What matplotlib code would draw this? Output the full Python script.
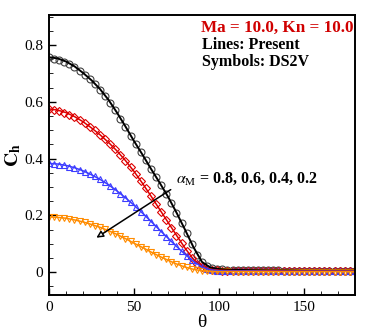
import matplotlib
matplotlib.use("Agg")
import matplotlib.pyplot as plt
from matplotlib.ticker import MultipleLocator

plt.rcParams['font.family'] = ['Liberation Serif', 'DejaVu Serif']
plt.rcParams['mathtext.fontset'] = 'stix'

# ---- Present (lines) ----
theta_line = [0, 5, 10, 15, 20, 25, 30, 35, 40, 45, 50, 55, 60, 65, 70, 75, 80, 85, 90, 95,
              100, 105, 110, 120, 130, 140, 150, 160, 170, 180]
ch_line_08 = [0.757, 0.753, 0.742, 0.725, 0.702, 0.676, 0.645, 0.607, 0.562, 0.513, 0.462, 0.414,
              0.364, 0.316, 0.266, 0.210, 0.150, 0.088, 0.036, 0.016, 0.011, 0.009, 0.008, 0.007,
              0.006, 0.006, 0.005, 0.005, 0.005, 0.005]
ch_line_06 = [0.575, 0.571, 0.562, 0.548, 0.530, 0.508, 0.484, 0.457, 0.427, 0.393, 0.355, 0.313,
              0.268, 0.222, 0.176, 0.130, 0.085, 0.045, 0.020, 0.010, 0.007, 0.006, 0.005, 0.005,
              0.005, 0.004, 0.004, 0.004, 0.004, 0.004]
ch_line_04 = [0.383, 0.381, 0.376, 0.368, 0.357, 0.343, 0.327, 0.308, 0.286, 0.262, 0.236, 0.208,
              0.179, 0.149, 0.120, 0.091, 0.063, 0.038, 0.018, 0.008, 0.005, 0.004, 0.004, 0.004,
              0.003, 0.003, 0.003, 0.003, 0.003, 0.003]
ch_line_02 = [0.195, 0.193, 0.190, 0.184, 0.177, 0.168, 0.158, 0.146, 0.133, 0.118, 0.102, 0.087,
              0.071, 0.056, 0.042, 0.029, 0.018, 0.010, 0.005, 0.003, 0.002, 0.002, 0.002, 0.002,
              0.002, 0.002, 0.002, 0.002, 0.002, 0.002]

# ---- DS2V (symbols) ----
theta_sym = [0, 3, 6, 9, 12, 15, 18, 21, 24, 27, 30, 33, 36, 39, 42, 45, 48, 51, 54, 57, 60,
             63, 66, 69, 72, 75, 78, 81, 84, 87, 90, 93, 96, 99, 102, 105, 108, 111, 114, 117,
             120, 123, 126, 129, 132, 135, 138, 141, 144, 147, 150, 153, 156, 159, 162, 165,
             168, 171, 174, 177, 180]
ch_sym_08 = [0.757, 0.752, 0.748, 0.740, 0.733, 0.722, 0.709, 0.695, 0.679, 0.662, 0.642, 0.621,
             0.597, 0.570, 0.541, 0.511, 0.481, 0.452, 0.424, 0.394, 0.365, 0.336, 0.306, 0.276,
             0.243, 0.209, 0.173, 0.137, 0.099, 0.062, 0.036, 0.022, 0.015, 0.012, 0.010, 0.009,
             0.008, 0.008, 0.007, 0.007, 0.007, 0.006, 0.006, 0.006, 0.006, 0.006, 0.005, 0.005,
             0.005, 0.005, 0.005, 0.005, 0.005, 0.005, 0.005, 0.005, 0.005, 0.005, 0.005, 0.005,
             0.005]
ch_sym_06 = [0.573, 0.570, 0.566, 0.561, 0.553, 0.546, 0.536, 0.525, 0.513, 0.499, 0.484, 0.468,
             0.451, 0.433, 0.413, 0.392, 0.370, 0.347, 0.322, 0.296, 0.269, 0.241, 0.213, 0.185,
             0.157, 0.129, 0.101, 0.074, 0.050, 0.030, 0.018, 0.011, 0.008, 0.006, 0.005, 0.005,
             0.005, 0.005, 0.005, 0.004, 0.004, 0.004, 0.004, 0.004, 0.004, 0.004, 0.004, 0.004,
             0.004, 0.004, 0.004, 0.004, 0.004, 0.004, 0.004, 0.004, 0.004, 0.004, 0.004, 0.004,
             0.004]
ch_sym_04 = [0.383, 0.382, 0.379, 0.376, 0.372, 0.367, 0.361, 0.354, 0.346, 0.337, 0.327, 0.316,
             0.304, 0.291, 0.277, 0.262, 0.246, 0.230, 0.213, 0.196, 0.178, 0.160, 0.143, 0.125,
             0.108, 0.091, 0.074, 0.057, 0.042, 0.029, 0.018, 0.010, 0.006, 0.005, 0.004, 0.004,
             0.004, 0.004, 0.003, 0.003, 0.003, 0.003, 0.003, 0.003, 0.003, 0.003, 0.003, 0.003,
             0.003, 0.003, 0.003, 0.003, 0.003, 0.003, 0.003, 0.003, 0.003, 0.003, 0.003, 0.003,
             0.003]
ch_sym_02 = [0.195, 0.194, 0.192, 0.190, 0.187, 0.184, 0.180, 0.175, 0.170, 0.164, 0.158, 0.151,
             0.143, 0.135, 0.127, 0.118, 0.109, 0.099, 0.090, 0.080, 0.071, 0.062, 0.053, 0.045,
             0.037, 0.030, 0.023, 0.017, 0.012, 0.008, 0.005, 0.004, 0.003, 0.003, 0.003, 0.003,
             0.002, 0.002, 0.002, 0.002, 0.002, 0.002, 0.002, 0.002, 0.002, 0.002, 0.002, 0.002,
             0.002, 0.002, 0.002, 0.002, 0.002, 0.002, 0.002, 0.002, 0.002, 0.002, 0.002, 0.002,
             0.002]

colors = ['#000000', '#dd0000', '#3c3cff', '#ff8c00']
edge_colors = ['#404040', '#dd0000', '#3c3cff', '#ff8c00']
markers = ['o', 'D', '^', 'v']
msizes = [5.0, 3.6, 4.0, 4.0]

fig = plt.figure(figsize=(3.74, 3.32), dpi=100)
ax = fig.add_axes([0.131, 0.111, 0.818, 0.844])

sym_sets = [ch_sym_08, ch_sym_06, ch_sym_04, ch_sym_02]
line_sets = [ch_line_08, ch_line_06, ch_line_04, ch_line_02]

for ys, ec, m, ms in zip(sym_sets, edge_colors, markers, msizes):
    ax.plot(theta_sym, ys, linestyle='none', marker=m, markersize=ms,
            markerfacecolor='none', markeredgecolor=ec, markeredgewidth=0.8)
for ys, c, lw in zip(line_sets, colors, [1.4, 1.1, 1.1, 1.1]):
    ax.plot(theta_line, ys, color=c, linewidth=lw)

ax.set_xlim(0, 180)
ax.set_ylim(-0.081, 0.906)
ax.xaxis.set_major_locator(MultipleLocator(50))
ax.xaxis.set_minor_locator(MultipleLocator(10))
ax.yaxis.set_minor_locator(MultipleLocator(0.05))
ax.set_yticks([0, 0.2, 0.4, 0.6, 0.8])
ax.set_yticklabels(['0', '0.2', '0.4', '0.6', '0.8'])
ax.tick_params(axis='both', which='major', direction='in', length=5, width=1.0,
               labelsize=11, pad=4)
ax.tick_params(axis='both', which='minor', direction='in', length=3, width=0.6)
for s in ax.spines.values():
    s.set_linewidth(1.4)

ax.set_xlabel('θ', fontsize=14, labelpad=0)
ax.set_ylabel(r'$\mathbf{C_h}$', fontsize=14, labelpad=1)

ax.text(0.995, 0.955, 'Ma = 10.0, Kn = 10.0', transform=ax.transAxes, ha='right', va='center',
        fontsize=12.3, fontweight='bold', color='#d00000')
ax.text(0.50, 0.893, 'Lines: Present', transform=ax.transAxes, ha='left', va='center',
        fontsize=11.5, fontweight='bold', color='black')
ax.text(0.50, 0.833, 'Symbols: DS2V', transform=ax.transAxes, ha='left', va='center',
        fontsize=11.5, fontweight='bold', color='black')
ax.text(74.5, 0.33, r'$\alpha_\mathrm{M}$ = 0.8, 0.6, 0.4, 0.2', ha='left', va='center',
        fontsize=11.5, fontweight='bold', color='black')
ax.annotate('', xy=(26.5, 0.116), xytext=(73, 0.296),
            arrowprops=dict(arrowstyle='-|>', color='black', lw=1.1,
                            mutation_scale=10, fc='white'))

fig.savefig('out.png', dpi=100)
